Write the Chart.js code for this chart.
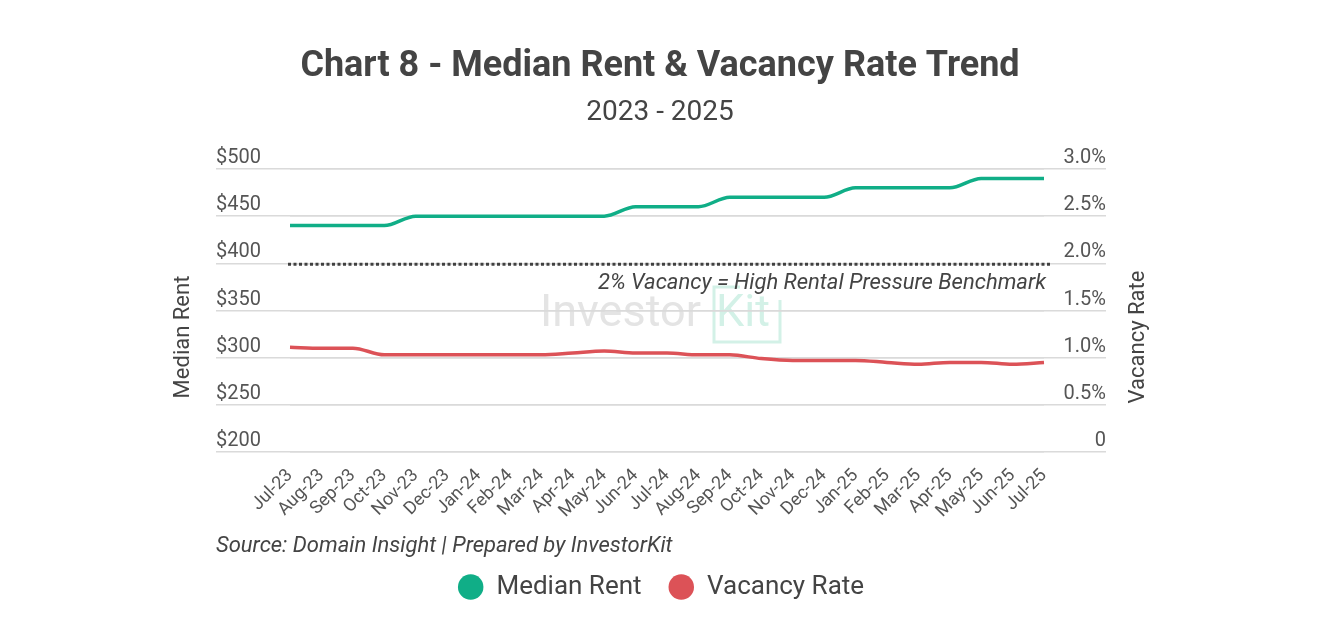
<!DOCTYPE html>
<html>
<head>
<meta charset="utf-8">
<title>Median Rent & Vacancy Rate Trend</title>
<script src="https://cdn.jsdelivr.net/npm/chart.js@4.4.1/dist/chart.umd.min.js"></script>
<style>
  html, body { margin: 0; padding: 0; background: #fff; }
  #wrap { width: 1320px; height: 640px; }
</style>
</head>
<body>
<div id="wrap"><canvas id="rentChart"></canvas></div>
<script>
// Datos del gráfico
const months = ['Jul-23', 'Aug-23', 'Sep-23', 'Oct-23', 'Nov-23', 'Dec-23', 'Jan-24', 'Feb-24', 'Mar-24',
    'Apr-24', 'May-24', 'Jun-24', 'Jul-24', 'Aug-24', 'Sep-24', 'Oct-24', 'Nov-24', 'Dec-24',
    'Jan-25', 'Feb-25', 'Mar-25', 'Apr-25', 'May-25', 'Jun-25', 'Jul-25'];
const medianRent = [440, 440, 440, 440, 450, 450, 450, 450, 450, 450, 450, 460, 460, 460,
    470, 470, 470, 470, 480, 480, 480, 480, 490, 490, 490];
const vacancyRate = [1.11, 1.10, 1.10, 1.03, 1.03, 1.03, 1.03, 1.03, 1.03, 1.05, 1.07, 1.05, 1.05,
    1.03, 1.03, 0.99, 0.97, 0.97, 0.97, 0.95, 0.93, 0.95, 0.95, 0.93, 0.95];
const rentTickLabels = ['$200', '$250', '$300', '$350', '$400', '$450', '$500'];
const vacancyTickLabels = ['0', '0.5%', '1.0%', '1.5%', '2.0%', '2.5%', '3.0%'];
const benchmarkRate = 2;
const benchmarkLabel = '2% Vacancy = High Rental Pressure Benchmark';

const GREEN = '#10ae87';
const RED = '#dc5257';
const TEXT = '#444444';
const GRID = '#dadada';

Chart.defaults.font.family = 'Roboto';
Chart.defaults.color = '#555555';

// Textos, marca de agua y línea de referencia
const decorPlugin = {
    id: 'decor',
    beforeDraw(chart) {
        const ctx = chart.ctx;
        ctx.save();
        ctx.font = '45px Roboto';
        ctx.textAlign = 'left';
        ctx.textBaseline = 'alphabetic';
        ctx.fillStyle = '#e4e4e4';
        ctx.fillText('Investor', 540, 326);
        ctx.fillStyle = '#d3f1e7';
        ctx.fillText('Kit', 716, 326);
        ctx.strokeStyle = '#d3f1e7';
        ctx.lineWidth = 3;
        ctx.beginPath();
        ctx.moveTo(740, 287);
        ctx.lineTo(714, 287);
        ctx.lineTo(714, 342);
        ctx.lineTo(780, 342);
        ctx.lineTo(780, 300);
        ctx.stroke();
        ctx.restore();
    },
    afterDatasetsDraw(chart) {
        const ctx = chart.ctx;
        const area = chart.chartArea;
        const y1 = chart.scales.y1;
        const yb = y1.getPixelForValue(benchmarkRate) + 1;

        ctx.save();
        ctx.strokeStyle = '#404040';
        ctx.lineWidth = 3;
        ctx.setLineDash([3, 2.5]);
        ctx.beginPath();
        ctx.moveTo(area.left - 2, yb);
        ctx.lineTo(area.right + 8, yb);
        ctx.stroke();
        ctx.setLineDash([]);

        ctx.fillStyle = TEXT;
        ctx.font = 'italic 22px Roboto';
        ctx.textAlign = 'right';
        ctx.textBaseline = 'middle';
        ctx.fillText(benchmarkLabel, area.right + 2, yb + 19);
        ctx.restore();
    },
    afterDraw(chart) {
        const ctx = chart.ctx;
        ctx.save();
        ctx.fillStyle = TEXT;
        ctx.textAlign = 'center';
        ctx.textBaseline = 'middle';
        ctx.font = 'bold 36px Roboto';
        ctx.fillText('Chart 8 - Median Rent & Vacancy Rate Trend', 660, 67);
        ctx.font = '28px Roboto';
        ctx.fillText('2023 - 2025', 660, 113);

        ctx.font = '22px Roboto';
        ctx.save();
        ctx.translate(183, 337);
        ctx.rotate(-Math.PI / 2);
        ctx.fillText('Median Rent', 0, 0);
        ctx.restore();
        ctx.save();
        ctx.translate(1138, 337);
        ctx.rotate(-Math.PI / 2);
        ctx.fillText('Vacancy Rate', 0, 0);
        ctx.restore();

        ctx.font = 'italic 22px Roboto';
        ctx.textAlign = 'left';
        ctx.fillText('Source: Domain Insight | Prepared by InvestorKit', 216, 546);
        ctx.restore();
    }
};

const ctx = document.getElementById('rentChart');
new Chart(ctx, {
    type: 'line',
    data: {
        labels: months,
        datasets: [{
            label: 'Median Rent',
            data: medianRent,
            yAxisID: 'y',
            borderColor: GREEN,
            backgroundColor: GREEN,
            pointBackgroundColor: GREEN,
            pointBorderWidth: 0,
            borderWidth: 3.5,
            pointRadius: 0,
            cubicInterpolationMode: 'monotone'
        }, {
            label: 'Vacancy Rate',
            data: vacancyRate,
            yAxisID: 'y1',
            borderColor: RED,
            backgroundColor: RED,
            pointBackgroundColor: RED,
            pointBorderWidth: 0,
            borderWidth: 3.5,
            pointRadius: 0,
            cubicInterpolationMode: 'monotone'
        }]
    },
    options: {
        responsive: true,
        maintainAspectRatio: false,
        animation: false,
        layout: {
            padding: { left: 216, right: 214, top: 169, bottom: 30 }
        },
        plugins: {
            tooltip: { enabled: false },
            legend: {
                position: 'bottom',
                labels: {
                    usePointStyle: true,
                    pointStyle: 'circle',
                    boxHeight: 18,
                    pointStyleWidth: 25.5,
                    padding: 27,
                    color: TEXT,
                    font: { size: 26 }
                }
            }
        },
        scales: {
            x: {
                grid: { display: false },
                border: { display: false },
                ticks: {
                    autoSkip: false,
                    minRotation: 45,
                    maxRotation: 45,
                    padding: 5,
                    color: '#555',
                    font: { size: 18 }
                },
                afterFit: scale => { scale.height = 95; }
            },
            y: {
                position: 'left',
                min: 200,
                max: 500,
                border: { display: false },
                grid: { color: GRID, lineWidth: 1.5, tickLength: 74 },
                ticks: {
                    stepSize: 50,
                    crossAlign: 'far',
                    labelOffset: -11,
                    color: '#555',
                    font: { size: 20 },
                    callback: (v, i) => rentTickLabels[i]
                },
                afterFit: scale => { scale.width = 74; }
            },
            y1: {
                position: 'right',
                min: 0,
                max: 3,
                border: { display: false },
                grid: { color: GRID, lineWidth: 1.5, tickLength: 62 },
                ticks: {
                    stepSize: 0.5,
                    crossAlign: 'far',
                    labelOffset: -11,
                    color: '#555',
                    font: { size: 20 },
                    callback: (v, i) => vacancyTickLabels[i]
                },
                afterFit: scale => { scale.width = 62; }
            }
        }
    },
    plugins: [decorPlugin]
});
</script>
</body>
</html>
